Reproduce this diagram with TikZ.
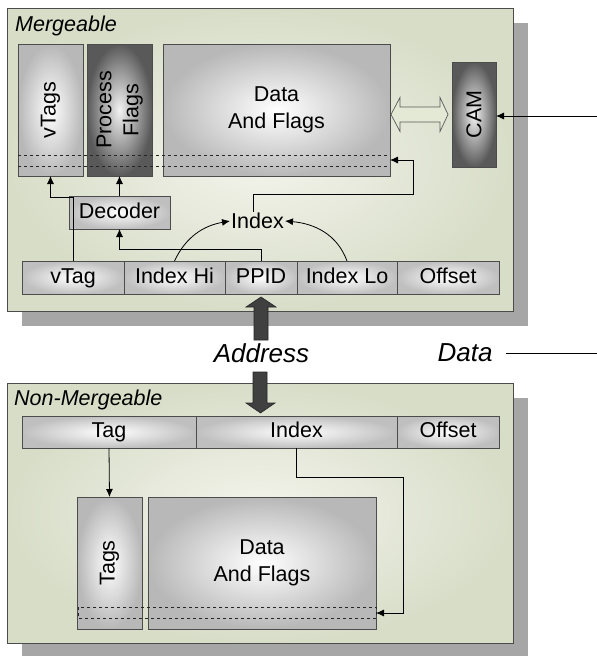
\documentclass[tikz,border=0pt]{standalone}
\usepackage{fontspec}
\setmainfont{Liberation Sans}
\usetikzlibrary{arrows.meta,positioning}
\definecolor{panelin}{RGB}{243,244,236}
\definecolor{panelout}{RGB}{216,221,200}
\definecolor{arrowfill}{RGB}{228,233,214}
\newcommand\lblfont{\fontsize{21.5}{27}\selectfont}
\newcommand\busfont{\fontsize{26}{30}\selectfont\itshape}
\tikzstyle{backshadow} = [fill=black!35]
\tikzstyle{panel} = [draw=black!70, line width=0.8pt, shading=radial, inner color=panelin, outer color=panelout]
\tikzstyle{field} = [draw=black!70, line width=0.8pt, shading=radial, inner color=white, outer color=black!25, inner sep=0pt, outer sep=0pt, minimum height=33pt, font=\lblfont]
\tikzstyle{cell} = [field, text height=15.5pt, text depth=4.5pt]
\tikzstyle{store} = [field, outer color=black!28]
\tikzstyle{darkstore} = [field, inner color=black!5, outer color=black!65]
\tikzstyle{title} = [font=\lblfont\itshape, anchor=west, inner sep=0pt]
\tikzstyle{bus} = [font=\busfont, inner sep=0pt]
\tikzstyle{blockarrow} = [fill=black!75, draw=black!85, line width=0.6pt]
\tikzstyle{arr} = [-{Latex[length=8pt,width=7pt]}, line width=0.8pt]

\begin{document}
\begin{tikzpicture}[x=1pt, y=-1pt]
\useasboundingbox (0,0) rectangle (597,656);

\fill[backshadow] (22,23) rectangle (528,326);
\draw[panel] (7,8) rectangle (513,311);
\node[title] (mtitle) at (15,26) {Mergeable};

\node[store, minimum width=65pt, minimum height=132pt] (vtags) at (50.5,110) {\rotatebox{90}{vTags}};
\node[darkstore, minimum width=65pt, minimum height=132pt] (pflags) at (119.5,110) {\rotatebox{90}{\begin{tabular}{@{}c@{}}Process\\Flags\end{tabular}}};
\node[store, minimum width=227pt, minimum height=132pt, align=center] (data) at (276.5,110) {Data\\And Flags};
\draw[dashed, black!85] (18,155) -- (390,155) (18,166) -- (390,166);
\node[darkstore, minimum width=44pt, minimum height=105pt] (cam) at (474,114.5) {\rotatebox{90}{CAM}};

\draw[fill=arrowfill, draw=black!65, line width=0.7pt] (391,114.5) -- (400,97.5) -- (400,107) -- (440,107) -- (440,97.5) -- (448,114.5)
-- (440,131.5) -- (440,122) -- (400,122) -- (400,131.5) -- cycle;

\node[cell, minimum width=101pt] (decoder) at (119.5,212.5) {Decoder};
\node[font=\lblfont, inner sep=1pt] (index) at (257.5,221) {Index};

\node[cell, minimum width=102pt, anchor=north west] (vtag) at (22,261) {vTag};
\node[cell, minimum width=101pt, right=0pt of vtag] (idxhi) {Index Hi};
\node[cell, minimum width=72pt, right=0pt of idxhi] (ppid) {PPID};
\node[cell, minimum width=100pt, right=0pt of ppid] (idxlo) {Index Lo};
\node[cell, minimum width=102pt, right=0pt of idxlo] (offset) {Offset};

\draw[arr] (vtag.north) -- ++(0,-64) -| (vtags.south);
\draw[arr] (ppid.north) -- ++(0,-12) -| (decoder.south);
\draw[arr] (decoder.north) -- (pflags.south);
\draw[arr] (idxhi.north) to[out=65, in=190] (index.west);
\draw[arr] (idxlo.north) to[out=110, in=-5] (index.east);
\draw[arr] ([xshift=-4pt]index.north) |- (413,194) |- (data.east |- 0,160);

\coordinate (camin) at (597,116);
\draw[arr] (camin) -- (cam.east |- camin);

\draw[blockarrow] (254,340) -- (254,307) -- (246,307) -- (261,297) -- (276,307) -- (268,307) -- (268,340) -- cycle;
\node[bus] (address) at (261.5,353) {Address};
\node[bus] (datalbl) at (465,353) {Data};
\coordinate (dataend) at (597,353);
\draw[line width=0.8pt] ([xshift=13pt]datalbl.east) -- (dataend);

\fill[backshadow] (22,398) rectangle (528,660);
\draw[panel] (7,383) rectangle (513,643);
\node[title] (ntitle) at (14,400) {Non-Mergeable};
\draw[blockarrow] (253,372) -- (253,403) -- (246,403) -- (260.5,413) -- (275,403) -- (267,403) -- (267,372) -- cycle;

\node[cell, minimum width=174pt, minimum height=32pt, anchor=north west] (tag) at (22,416) {Tag};
\node[cell, minimum width=201pt, minimum height=32pt, right=0pt of tag] (bindex) {Index};
\node[cell, minimum width=102pt, minimum height=32pt, right=0pt of bindex] (boffset) {Offset};

\node[store, minimum width=65pt, minimum height=132pt] (tags) at (109.5,563) {\rotatebox{90}{Tags}};
\node[store, minimum width=228pt, minimum height=132pt, align=center] (ndata) at (262,563) {Data\\And Flags};
\draw[dashed, black!85] (78,607) rectangle (376,618);

\draw[arr] (tag.south) -- (tags.north);
\draw[arr] (bindex.south) |- (403,477) |- (ndata.east |- 0,613);
\end{tikzpicture}
\end{document}
